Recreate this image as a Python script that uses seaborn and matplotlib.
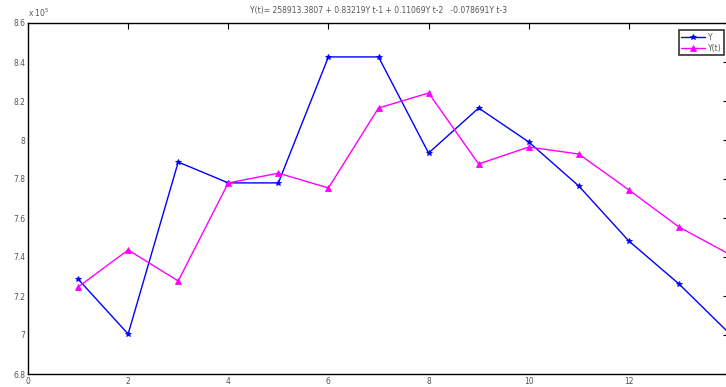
import matplotlib
matplotlib.use("Agg")
import matplotlib.pyplot as plt
import seaborn as sns
import pandas as pd

t = [1, 2, 3, 4, 5, 6, 7, 8, 9, 10, 11, 12, 13, 14]
y_actual = [7.287, 7.005, 7.887, 7.78, 7.78, 8.426, 8.426, 7.933, 8.164, 7.99, 7.764, 7.482, 7.262, 7.01]
y_fit = [7.246, 7.436, 7.277, 7.78, 7.83, 7.754, 8.164, 8.241, 7.877, 7.964, 7.928, 7.744, 7.554, 7.415]
x_ticks = [0, 2, 4, 6, 8, 10, 12]
y_ticks = [6.8, 7.0, 7.2, 7.4, 7.6, 7.8, 8.0, 8.2, 8.4, 8.6]
y_tick_labels = ["6.8", "7", "7.2", "7.4", "7.6", "7.8", "8", "8.2", "8.4", "8.6"]
title = "Y(t)= 258913.3807 + 0.83219Y t-1 + 0.11069Y t-2   -0.078691Y t-3"

sns.set_style("white")
plt.rcParams['font.family'] = ['DejaVu Sans']

df = pd.DataFrame({
    "t": t * 2,
    "value": y_actual + y_fit,
    "series": ["Y"] * len(t) + ["Y(t)"] * len(t),
})

fig = plt.figure(figsize=(7.26, 3.87), dpi=100)
ax = fig.add_axes([28 / 726, 1 - 374 / 387, 701 / 726, 351 / 387])

sns.lineplot(data=df, x="t", y="value", hue="series", style="series",
             palette={"Y": "#0000ff", "Y(t)": "#ff00ff"},
             markers={"Y": "*", "Y(t)": "^"}, dashes=False,
             markersize=3.8, linewidth=1.0, ax=ax)

for line in ax.lines:
    line.set_markeredgecolor(line.get_color())
    line.set_markerfacecolor(line.get_color())
    line.set_markeredgewidth(0.6)

ax.set_xlim(0, 14)
ax.set_ylim(6.8, 8.6)
ax.set_xticks(x_ticks)
ax.set_yticks(y_ticks)
ax.set_yticklabels(y_tick_labels)
ax.set_xlabel("")
ax.set_ylabel("")
ax.tick_params(direction="in", length=4, width=0.8, color="black",
               labelsize=5.5, labelcolor="#555555", pad=2,
               top=True, right=True)
for s in ax.spines.values():
    s.set_color("black")
    s.set_linewidth(1.0)
ax.spines["right"].set_visible(False)

ax.text(0.0, 1.012, r"x 10$^5$", transform=ax.transAxes, fontsize=5.5,
        color="#555555", ha="left", va="bottom")
ax.set_title(title, fontsize=5.5, color="#555555", pad=7)

leg = ax.legend(loc="upper right", bbox_to_anchor=(0.998, 0.99), fontsize=5.5,
                frameon=True, fancybox=False, handlelength=3.2,
                borderpad=0.3, labelspacing=0.3, handletextpad=0.3)
leg.get_frame().set_edgecolor("black")
leg.get_frame().set_linewidth(1.2)
for h in leg.legend_handles:
    h.set_markeredgecolor(h.get_color())
    h.set_markerfacecolor(h.get_color())
for txt in leg.get_texts():
    txt.set_color("#555555")

fig.savefig("out.png", dpi=100)
